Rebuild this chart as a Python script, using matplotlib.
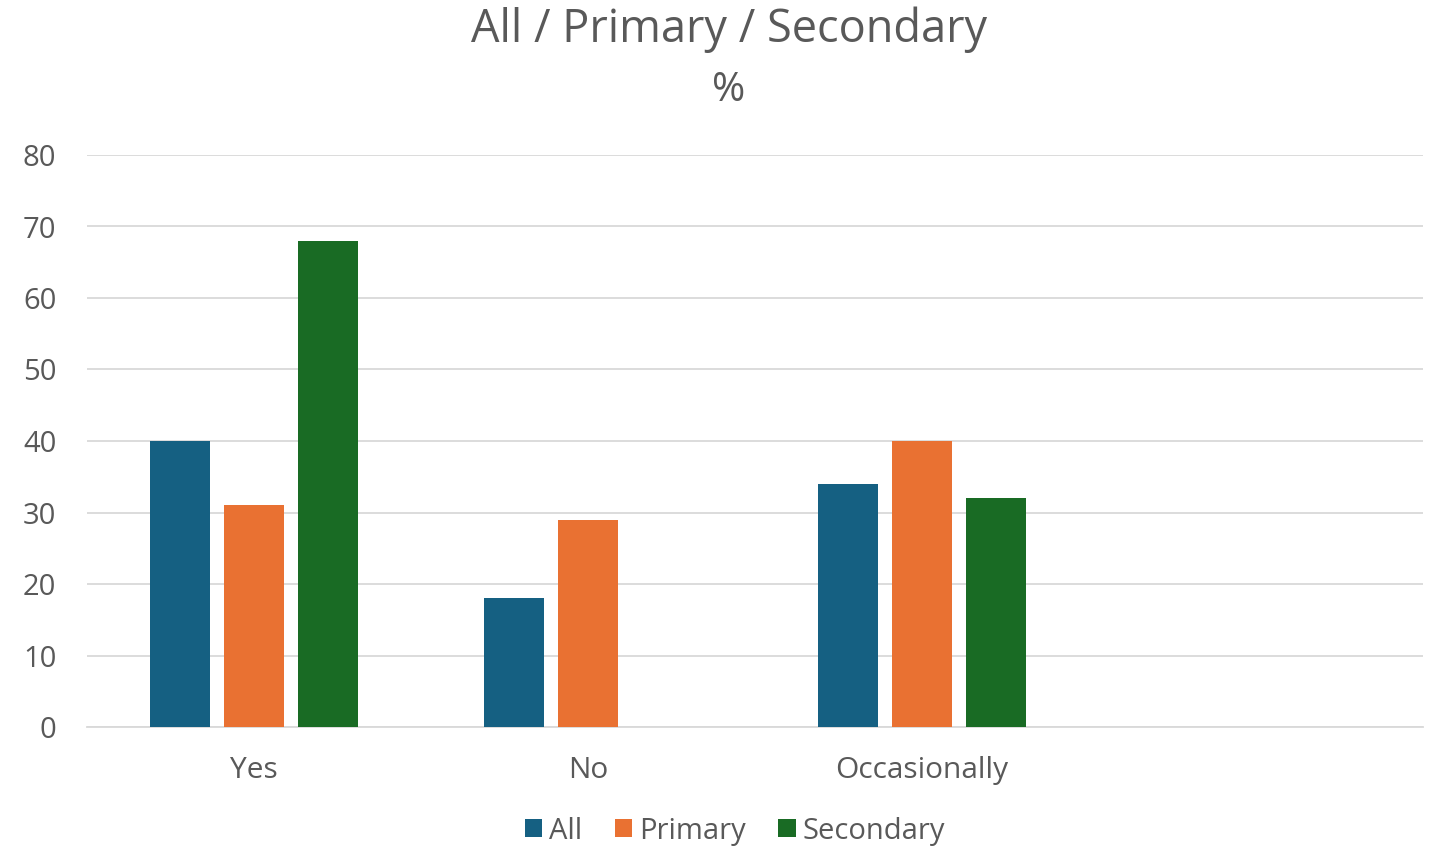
import matplotlib
matplotlib.use("Agg")
import matplotlib.pyplot as plt
import numpy as np

categories = ["Yes", "No", "Occasionally", ""]
series_names = ["All", "Primary", "Secondary"]
all_vals = [40, 18, 34, None]
primary_vals = [31, 29, 40, None]
secondary_vals = [68, None, 32, None]
colors = ["#156082", "#E97132", "#196B24"]
yticks = [0, 10, 20, 30, 40, 50, 60, 70, 80]

plt.rcParams['font.family'] = ['Open Sans', 'DejaVu Sans']
text_color = "#595959"

fig = plt.figure(figsize=(14.33, 8.47), dpi=100)
ax = fig.add_axes([87/1433, 1-727/847, (1423-87)/1433, (727-155)/847])

x = np.arange(len(categories))
width = 0.177
step = 0.2216
for i, (name, vals) in enumerate(zip(series_names, [all_vals, primary_vals, secondary_vals])):
    xs = [xi + (i - 1) * step for xi, v in zip(x, vals) if v is not None]
    ys = [v for v in vals if v is not None]
    ax.bar(xs, ys, width=width, color=colors[i], label=name, zorder=3)

ax.set_xlim(-0.5, len(categories) - 0.5)
ax.set_ylim(0, 80)
ax.set_yticks(yticks)
ax.set_yticklabels([str(t) for t in yticks], fontsize=21, color=text_color)
ax.set_xticks(x)
ax.set_xticklabels(categories, fontsize=21.5, color=text_color)
ax.tick_params(axis='both', length=0)
ax.tick_params(axis='y', pad=22)
ax.tick_params(axis='x', pad=21)
for lbl in ax.get_yticklabels():
    lbl.set_horizontalalignment('right')
ax.grid(axis='y', color="#D9D9D9", linewidth=1.3, zorder=0)
for s in ["top", "right", "left"]:
    ax.spines[s].set_visible(False)
ax.spines["bottom"].set_color("#D9D9D9")
ax.spines["bottom"].set_linewidth(1.3)

fig.text(729/1433, 1-30/847, "All / Primary / Secondary", ha='center', va='center', fontsize=32.5, color=text_color)
fig.text(729/1433, 1-91/847, "%", ha='center', va='center', fontsize=29, color=text_color)

leg = fig.legend(loc='center', bbox_to_anchor=(735/1433, 1-831/847), ncol=3, frameon=False,
                 fontsize=21, handlelength=0.6, handleheight=0.6, handletextpad=0.25, columnspacing=1.1)
for t in leg.get_texts():
    t.set_color(text_color)

fig.savefig("out.png", dpi=100, facecolor="white")
